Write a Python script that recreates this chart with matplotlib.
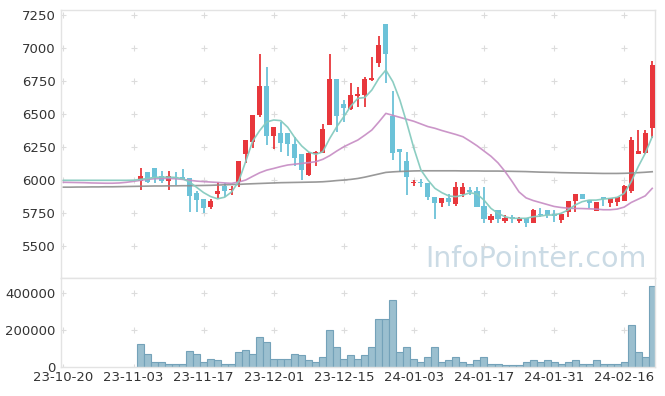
import matplotlib
matplotlib.use("Agg")
import matplotlib.pyplot as plt
import numpy as np

# 날짜 라벨 (10 거래일 간격)
tick_labels = ['23-10-20', '23-11-03', '23-11-17', '23-12-01', '23-12-15',
               '24-01-03', '24-01-17', '24-01-31', '24-02-16']
n_days = 85
first_trade = 11  # 캔들이 시작되는 거래일 순번

opens = [5995, 6058, 6091, 6030, 5995, 6025, 6023, 6013, 5904, 5854,
         5798, 5894, 5957, 5922, 5985, 6197, 6290, 6492, 6712, 6336,
         6358, 6358, 6273, 6197, 6038, 6197, 6207, 6417, 6765, 6576,
         6538, 6634, 6644, 6760, 6884, 7182, 6487, 6233, 6146, 5975,
         5987, 5980, 5869, 5823, 5866, 5818, 5894, 5924, 5919, 5803,
         5697, 5773, 5692, 5717, 5692, 5712, 5672, 5742, 5770, 5740,
         5697, 5758, 5839, 5894, 5848, 5763, 5869, 5823, 5836, 5839,
         5919, 6195, 6202, 6396]
highs = [6090, 6058, 6091, 6070, 6070, 6058, 6083, 6013, 5919, 5854,
         5854, 5982, 5980, 5957, 6144, 6303, 6492, 6955, 6854, 6404,
         6437, 6358, 6323, 6197, 6210, 6220, 6424, 6955, 6765, 6606,
         6737, 6707, 6778, 6934, 7093, 7182, 6674, 6233, 6214, 6000,
         6005, 5980, 5869, 5861, 5892, 5987, 5980, 5950, 5950, 5950,
         5742, 5773, 5732, 5735, 5722, 5712, 5780, 5785, 5770, 5773,
         5742, 5839, 5894, 5894, 5848, 5836, 5869, 5864, 5869, 5960,
         6323, 6379, 6379, 6901]
lows = [5925, 5975, 5975, 5975, 5925, 5960, 5998, 5755, 5755, 5752,
        5780, 5861, 5869, 5889, 5950, 6131, 6240, 6480, 6265, 6233,
        6210, 6182, 6108, 6000, 6030, 6106, 6207, 6417, 6366, 6437,
        6530, 6555, 6555, 6752, 6858, 6732, 6152, 6063, 5886, 5957,
        5950, 5848, 5702, 5793, 5803, 5803, 5874, 5886, 5798, 5672,
        5672, 5677, 5677, 5672, 5677, 5646, 5672, 5720, 5710, 5684,
        5672, 5722, 5758, 5854, 5790, 5763, 5800, 5798, 5806, 5839,
        5900, 6195, 6200, 6316]
closes = [6030, 5987, 6020, 5995, 6030, 6013, 6005, 5879, 5848, 5785,
          5840, 5917, 5917, 5934, 6144, 6303, 6492, 6712, 6336, 6404,
          6278, 6270, 6164, 6076, 6202, 6214, 6384, 6765, 6487, 6543,
          6644, 6650, 6763, 6775, 7023, 6952, 6202, 6210, 6025, 5987,
          5975, 5869, 5823, 5861, 5836, 5945, 5945, 5907, 5798, 5702,
          5727, 5707, 5712, 5707, 5714, 5672, 5773, 5732, 5735, 5727,
          5742, 5839, 5894, 5854, 5826, 5836, 5854, 5864, 5869, 5955,
          6303, 6220, 6354, 6871]
volumes = [122000, 72000, 25000, 25000, 18000, 18000, 18000, 85000, 67000, 29000,
           40000, 36000, 13000, 18000, 78000, 90000, 72000, 159000, 133000, 40000,
           40000, 40000, 67000, 62000, 35000, 29000, 51000, 197000, 105000, 40000,
           62000, 45000, 62000, 105000, 256000, 256000, 359000, 78000, 105000, 45000,
           29000, 51000, 105000, 29000, 35000, 51000, 25000, 18000, 35000, 56000,
           13000, 18000, 11000, 11000, 11000, 29000, 35000, 25000, 35000, 25000,
           13000, 25000, 35000, 18000, 18000, 35000, 18000, 18000, 18000, 25000,
           224000, 83000, 51000, 436000]

# 이동평균선
ma_short = [5998, 5998, 5998, 5998, 5998, 5998, 5998, 5998, 5998, 5998,
            5999, 6005, 6012, 6020, 6022, 6022, 6020, 6010, 5985, 5945,
            5905, 5875, 5858, 5870, 5910, 5990, 6140, 6295, 6375, 6440,
            6455, 6450, 6400, 6322, 6258, 6212, 6195, 6214, 6316, 6404,
            6480, 6560, 6619, 6625, 6682, 6770, 6833, 6745, 6606, 6430,
            6240, 6076, 6000, 5937, 5904, 5879, 5874, 5886, 5904, 5894,
            5848, 5785, 5748, 5722, 5710, 5710, 5710, 5722, 5727, 5735,
            5735, 5748, 5773, 5811, 5836, 5848, 5848, 5856, 5861, 5869,
            5899, 5987, 6101, 6202, 6328]
ma_mid = [5983, 5982, 5981, 5980, 5978, 5977, 5976, 5976, 5978, 5983,
          5990, 5998, 6005, 6010, 6012, 6012, 6010, 6005, 5998, 5992,
          5988, 5985, 5982, 5978, 5975, 5985, 6000, 6028, 6055, 6075,
          6088, 6102, 6114, 6120, 6126, 6132, 6139, 6157, 6185, 6220,
          6252, 6278, 6303, 6340, 6379, 6440, 6505, 6490, 6475, 6460,
          6445, 6425, 6405, 6392, 6375, 6360, 6345, 6328, 6295, 6260,
          6220, 6180, 6130, 6065, 5990, 5910, 5865, 5845, 5830, 5815,
          5800, 5792, 5787, 5785, 5784, 5782, 5780, 5775, 5775, 5780,
          5795, 5830, 5855, 5880, 5937]
ma_long = [5946, 5946, 5947, 5947, 5948, 5948, 5949, 5949, 5950, 5951,
           5952, 5953, 5954, 5955, 5955, 5956, 5956, 5957, 5957, 5958,
           5959, 5960, 5962, 5964, 5966, 5967, 5970, 5972, 5974, 5976,
           5978, 5980, 5981, 5982, 5983, 5984, 5985, 5987, 5991, 5996,
           6000, 6005, 6012, 6022, 6034, 6046, 6058, 6062, 6065, 6067,
           6069, 6070, 6070, 6070, 6070, 6070, 6070, 6069, 6069, 6069,
           6068, 6068, 6068, 6067, 6066, 6065, 6064, 6062, 6060, 6059,
           6058, 6056, 6055, 6054, 6053, 6052, 6051, 6050, 6050, 6050,
           6051, 6053, 6056, 6059, 6063]

price_ticks = [5500, 5750, 6000, 6250, 6500, 6750, 7000, 7250]
volume_ticks = [0, 200000, 400000]

up_color = '#e8373c'
down_color = '#6cc2d8'
frame_color = '#e3e3e3'
text_color = '#333333'

fig = plt.figure(figsize=(6.65, 3.96), dpi=100)
ax = fig.add_axes([0.0922, 0.298, 0.8928, 0.6767])
axv = fig.add_axes([0.0922, 0.0735, 0.8928, 0.2245], sharex=ax)

x_all = np.arange(n_days)
x = np.arange(first_trade, first_trade + len(closes))
o = np.array(opens)
c = np.array(closes)
h = np.array(highs)
l = np.array(lows)
colors = np.where(c >= o, up_color, down_color)

# 캔들
ax.vlines(x, l, h, colors=colors, linewidth=1.3, zorder=2)
body_h = np.maximum(np.abs(c - o), 8)
ax.bar(x, body_h, bottom=np.minimum(o, c), width=0.72, color=colors, zorder=3)

# 이동평균선
ax.plot(x_all, ma_long, color='#8e8e8e', lw=1.2, alpha=0.9, zorder=4)
ax.plot(x_all, ma_mid, color='#c68bc3', lw=1.2, alpha=0.9, zorder=4)
ax.plot(x_all, ma_short, color='#86cbbf', lw=1.2, alpha=0.95, zorder=4)

# 거래량
axv.bar(x, volumes, width=1.0, color='#9bbfcf', edgecolor='#74a2b9', linewidth=0.8, zorder=2)

xticks = np.arange(0, n_days, 10)
for a, yt in ((ax, price_ticks), (axv, volume_ticks)):
    gx, gy = np.meshgrid(xticks, yt)
    a.scatter(gx.ravel(), gy.ravel(), marker='+', s=14, color='#dcdcdc', linewidths=0.8, zorder=1)
    for s in a.spines.values():
        s.set_color(frame_color)
        s.set_linewidth(1.0)
    a.tick_params(length=0, colors=text_color, labelsize=9.5, pad=4)

ax.set_xlim(-0.3, 84.4)
ax.set_ylim(5258, 7288)
ax.set_yticks(price_ticks)
ax.tick_params(labelbottom=False)
axv.set_ylim(0, 480000)
axv.set_yticks(volume_ticks)
axv.set_xticks(xticks)
axv.set_xticklabels(tick_labels)
axv.tick_params(axis='x', pad=3)

ax.text(0.9865, 0.042, 'InfoPointer.com', transform=ax.transAxes,
        ha='right', va='baseline', fontsize=20.5, color='#cbdbe5', zorder=0)

fig.savefig('out.png', dpi=100)
